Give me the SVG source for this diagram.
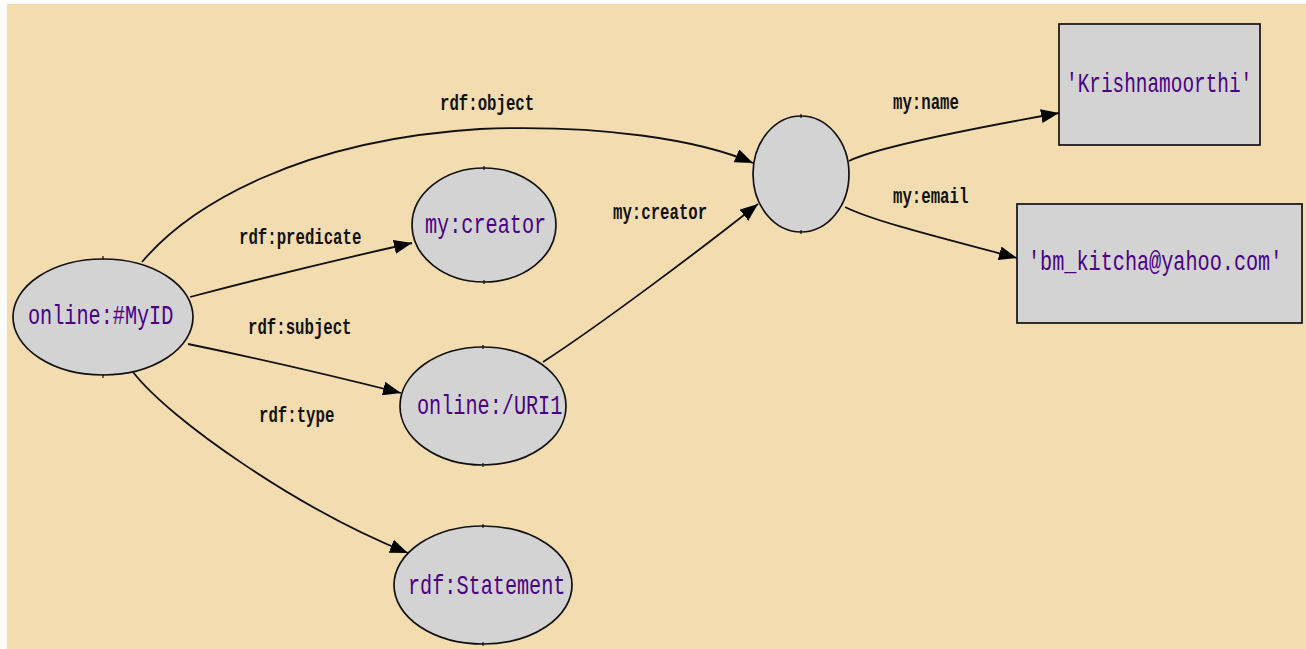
<svg xmlns="http://www.w3.org/2000/svg" width="1306" height="649" viewBox="0 0 1306 649">
  <defs>
    <marker id="arrow" markerUnits="userSpaceOnUse" markerWidth="20" markerHeight="16" refX="18" refY="7" orient="auto">
      <path d="M0,0 L18,7 L0,14 Z" fill="#000"/>
    </marker>
    <style>
      .bg { fill: #F4DCB1; }
      .node { fill: #D3D3D3; stroke: #111; stroke-width: 1.7; }
      .tick { stroke: #111; stroke-width: 1.2; }
      .ntext { font-family: "Liberation Mono", "DejaVu Sans Mono", monospace; font-size: 20.2px; fill: #4B0082; }
      .edge { fill: none; stroke: #111; stroke-width: 1.8; marker-end: url(#arrow); }
      .elabel { font-family: "Liberation Mono", "DejaVu Sans Mono", monospace; font-size: 15.7px; font-weight: bold; fill: #111; }
    </style>
  </defs>

  <!-- canvas -->
  <rect x="0" y="0" width="1306" height="649" fill="#fff"/>
  <rect class="bg" x="7" y="4" width="1299" height="645"/>

  <!-- connectors; labels are narrow glyphs stretched vertically -->
  <g id="edges">
    <path class="edge" d="M142,262 C190,205 300,140 480,129 C600,124 700,140 753,163"/>
    <path class="edge" d="M190,297 Q300,268 412,243"/>
    <path class="edge" d="M188,344 Q290,365 401,393"/>
    <path class="edge" d="M133,372 C170,420 300,510 408,553"/>
    <path class="edge" d="M543,362 C600,325 700,250 758,204"/>
    <path class="edge" d="M849,161 Q880,145 1059,113"/>
    <path class="edge" d="M845,207 C875,222 950,240 1017,258"/>
    <text class="elabel" transform="translate(440,110) scale(1,1.4)">rdf:object</text>
    <text class="elabel" transform="translate(239,244) scale(1,1.4)">rdf:predicate</text>
    <text class="elabel" transform="translate(248,334) scale(1,1.4)">rdf:subject</text>
    <text class="elabel" transform="translate(259,422) scale(1,1.4)">rdf:type</text>
    <text class="elabel" transform="translate(613,219) scale(1,1.4)">my:creator</text>
    <text class="elabel" transform="translate(893,109) scale(1,1.4)">my:name</text>
    <text class="elabel" transform="translate(893,203) scale(1,1.4)">my:email</text>
  </g>

  <!-- nodes -->
  <g id="node-myid">
    <ellipse class="node" cx="103" cy="317" rx="90" ry="58"/>
    <path class="tick" d="M103,256 v4 M103,374 v4"/>
    <text class="ntext" transform="translate(28,324) scale(1,1.39)">online:#MyID</text>
  </g>
  <g id="node-creator">
    <ellipse class="node" cx="484" cy="225" rx="72" ry="57"/>
    <path class="tick" d="M484,166 v4 M484,280 v4"/>
    <text class="ntext" transform="translate(425,233) scale(1,1.39)">my:creator</text>
  </g>
  <g id="node-uri1">
    <ellipse class="node" cx="483" cy="406" rx="83" ry="59"/>
    <path class="tick" d="M483,345 v4 M483,463 v4"/>
    <text class="ntext" transform="translate(417,414) scale(1,1.39)">online:/URI1</text>
  </g>
  <g id="node-statement">
    <ellipse class="node" cx="483" cy="585" rx="89" ry="59"/>
    <path class="tick" d="M483,524 v4 M483,642 v4"/>
    <text class="ntext" transform="translate(408,594) scale(1,1.39)">rdf:Statement</text>
  </g>
  <g id="node-blank">
    <ellipse class="node" cx="801" cy="174" rx="48" ry="58"/>
    <path class="tick" d="M801,114 v4 M801,230 v4"/>
  </g>
  <g id="node-name">
    <rect class="node" x="1059" y="24" width="201" height="121"/>
    <text class="ntext" style="font-size:19.4px" transform="translate(1066,92) scale(1,1.45)">'Krishnamoorthi'</text>
  </g>
  <g id="node-email">
    <rect class="node" x="1017" y="204" width="285" height="119"/>
    <text class="ntext" transform="translate(1028,270) scale(1,1.39)">'bm_kitcha@yahoo.com'</text>
  </g>
</svg>
